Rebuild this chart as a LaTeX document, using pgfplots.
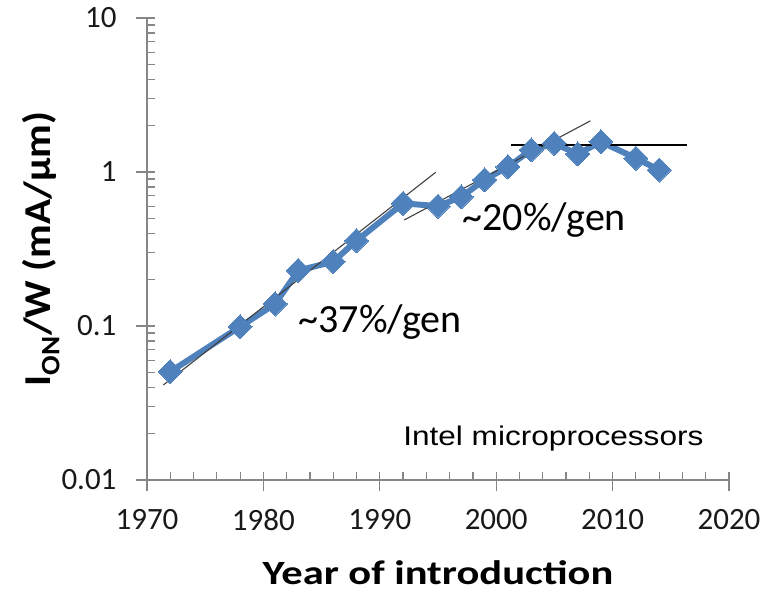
\documentclass[border=0pt]{standalone}
\usepackage{pgfplots}
\pgfplotsset{compat=1.18}
\usepackage{fontspec}
\setmainfont{Carlito}
\newfontfamily\arialfont[FakeStretch=1.17]{Liberation Sans}
\newfontfamily\xlabfont[FakeStretch=1.25]{Carlito}
\newfontfamily\ylabfont[FakeStretch=1.09]{Carlito}
\definecolor{xlblue}{HTML}{4F81BD}
\definecolor{axgray}{HTML}{868686}
\begin{document}
\begin{tikzpicture}
\begin{axis}[
  name=ax,
  scale only axis,
  width=582pt, height=462pt,
  ymode=log,
  xmin=1970, xmax=2020, ymin=0.01, ymax=10,
  axis x line*=bottom, axis y line*=left,
  axis line style={axgray, line width=1.2pt, -},
  xtick={1970,1980,1990,2000,2010,2020},
  xticklabels={1970,1980,1990,2000,2010,2020},
  minor x tick num=4,
  ytick={0.01,0.1,1,10},
  yticklabels={0.01,0.1,1,10},
  tick align=inside,
  major tick length=8pt, minor tick length=8pt,
  tick style={axgray, line width=1.2pt},
  extra x ticks={1970,1980,1990,2000,2010,2020},
  extra x tick labels={},
  extra y ticks={0.01,0.1,1,10},
  extra y tick labels={},
  extra tick style={tick align=outside, major tick length=11pt},
  ticklabel style={font=\fontsize{31}{36}\selectfont, text=black!90},
  xticklabel style={yshift=-26pt},
  yticklabel style={xshift=-27pt},
  xlabel={\textbf{Year of introduction}},
  xlabel style={font=\xlabfont\fontsize{34}{40}\selectfont, yshift=-12pt},
  ylabel={\textbf{I\textsubscript{ON}/W (mA/µm)}},
  ylabel style={font=\ylabfont\fontsize{38}{44}\selectfont, yshift=-16pt},
]
\addplot[xlblue, line width=6pt, mark=square*, mark size=8.5pt,
  mark options={rotate=45, fill=xlblue, draw=xlblue, line width=0pt}]
  coordinates {
  (1972,0.0505) (1978,0.099) (1981,0.139) (1983,0.229) (1986,0.262)
  (1988,0.358) (1992,0.626) (1995,0.60) (1997,0.69) (1999,0.89)
  (2001,1.08) (2003,1.39) (2005,1.53) (2007,1.31) (2009,1.57)
  (2012,1.23) (2014,1.03)
  };
\addplot[black!75, line width=1.1pt] coordinates {(1971.4,0.0414) (1994.8,0.995)};
\addplot[black!75, line width=1.1pt] coordinates {(1992.1,0.488) (2008.1,2.15)};
\addplot[black, line width=1.6pt] coordinates {(2001.3,1.50) (2016.4,1.50)};
\node[anchor=west, inner sep=0pt, font=\fontsize{40}{48}\selectfont] at (axis cs:1983,0.106) {\textasciitilde 37\%/gen};
\node[anchor=west, inner sep=0pt, font=\fontsize{40}{48}\selectfont] at (axis cs:1997.1,0.488) {\textasciitilde 20\%/gen};
\node[anchor=base west, inner sep=0pt, font=\arialfont\fontsize{27}{33}\selectfont] at (axis cs:1992,0.0167) {Intel microprocessors};
\end{axis}
\pgfresetboundingbox
\path (ax.south west) ++(-147pt,-113pt) coordinate (bl);
\path (ax.north east) ++(38pt,18pt) coordinate (tr);
\path (bl) rectangle (tr);
\end{tikzpicture}
\end{document}
